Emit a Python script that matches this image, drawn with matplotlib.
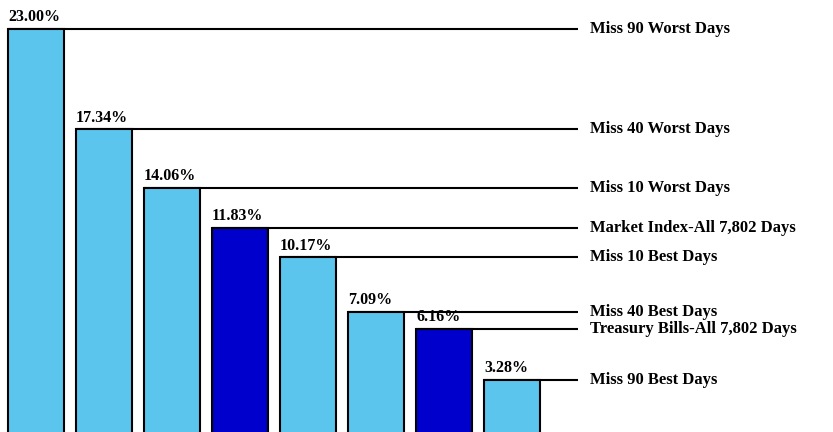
import matplotlib.pyplot as plt

# Annualized returns for each scenario
scenarios = [
    "Miss 90 Worst Days",
    "Miss 40 Worst Days",
    "Miss 10 Worst Days",
    "Market Index-All 7,802 Days",
    "Miss 10 Best Days",
    "Miss 40 Best Days",
    "Treasury Bills-All 7,802 Days",
    "Miss 90 Best Days",
]
returns = [23.00, 17.34, 14.06, 11.83, 10.17, 7.09, 6.16, 3.28]
is_benchmark = [False, False, False, True, False, False, True, False]

light_blue = "#5bc5ee"
dark_blue = "#0000cc"

plt.rcParams["font.family"] = ["Liberation Serif", "DejaVu Serif"]

fig = plt.figure(figsize=(8.33, 4.32), dpi=100)
ax = fig.add_axes([0, 0, 1, 1])

x = list(range(len(returns)))
width = 0.82
colors = [dark_blue if b else light_blue for b in is_benchmark]
bars = ax.bar(x, returns, width=width, color=colors, edgecolor="black",
              linewidth=1.5, zorder=3)

line_end = 7.97
label_x = 8.15
for xi, v, name in zip(x, returns, scenarios):
    left = xi - width / 2
    # leader line from the top of each bar over to its label
    ax.plot([left, line_end], [v, v], color="black", lw=1.5,
            solid_capstyle="butt", zorder=2)
    ax.text(left, v + 0.2, f"{v:.2f}%", ha="left", va="bottom",
            fontsize=11.5, fontweight="bold", zorder=4)
    ax.text(label_x, v, name, ha="left", va="center",
            fontsize=12, fontweight="bold")

ax.set_xlim(-0.53, 11.72)
ax.set_ylim(0.36, 24.6)
ax.axis("off")

fig.savefig("out.png", dpi=100, facecolor="white")
